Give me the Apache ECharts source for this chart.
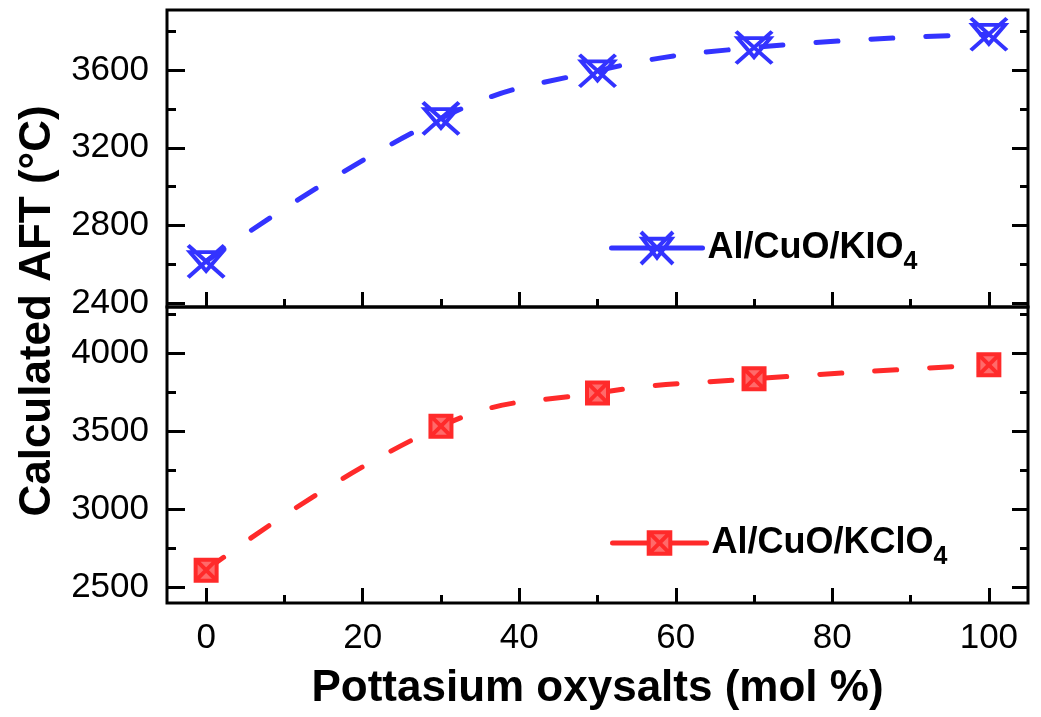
<!DOCTYPE html>
<html>
<head>
<meta charset="utf-8">
<script src="https://cdn.jsdelivr.net/npm/echarts@6/dist/echarts.min.js"></script>
<style>html,body{margin:0;padding:0;background:#fff;}#c{width:1041px;height:717px;}</style>
</head>
<body>
<div id="c"></div>
<script>
// ---- data ----
const xValues = [0, 30, 50, 70, 100];
const kio4Values = [2615, 3352, 3597, 3717, 3785];
const kclo4Values = [2610, 3532, 3745, 3835, 3925];
const seriesNames = ['Al/CuO/KIO4', 'Al/CuO/KClO4'];
const xMajorTicks = [0, 20, 40, 60, 80, 100];
const xMinorTicks = [10, 30, 50, 70, 90];
const topMajorTicks = [2400, 2800, 3200, 3600];
const topMinorTicks = [2600, 3000, 3400, 3800];
const botMajorTicks = [2500, 3000, 3500, 4000];
const botMinorTicks = [2750, 3250, 3750, 4250];
const xTitle = 'Pottasium oxysalts (mol %)';
const yTitle = 'Calculated AFT (°C)';

const FONT = '"Liberation Sans", Arial, sans-serif';
const BLUE = '#3333ff';
const RED = '#ff2a2a';
const RED_FILL = '#ff6a6a';

function pairs(xs, ys) { return xs.map((x, i) => [x, ys[i]]); }
function plain(v) { return String(v); }

function labelOpt(ticks) {
  return { show: true, customValues: ticks, margin: 18, color: '#000', fontSize: 35, fontFamily: FONT, formatter: plain };
}
function xAx(grid, ticks, len, labels, extra) {
  return Object.assign({
    type: 'value', gridIndex: grid, min: -5, max: 105, position: 'bottom',
    axisLine: { show: false, onZero: false }, splitLine: { show: false },
    axisTick: { show: true, inside: true, length: len, customValues: ticks, lineStyle: { color: '#000', width: 3 } },
    axisLabel: labels ? labelOpt(ticks) : { show: false }
  }, extra || {});
}
function yAx(grid, min, max, ticks, len, pos, labels) {
  return {
    type: 'value', gridIndex: grid, min: min, max: max, position: pos,
    axisLine: { show: false, onZero: false }, splitLine: { show: false },
    axisTick: { show: true, inside: true, length: len, customValues: ticks, lineStyle: { color: '#000', width: 3 } },
    axisLabel: labels ? labelOpt(ticks) : { show: false }
  };
}

const legendRich = {
  m: { fontSize: 36, fontWeight: 'bold', fontFamily: FONT, color: '#000' },
  s: { fontSize: 25, fontWeight: 'bold', fontFamily: FONT, color: '#000', padding: [28, 0, 0, 0] }
};
function legendFmt(name) { return '{m|' + name.slice(0, -1) + '}{s|' + name.slice(-1) + '}'; }

const chart = echarts.init(document.getElementById('c'), null, { renderer: 'canvas' });
chart.setOption({
  animation: false,
  backgroundColor: '#fff',
  grid: [
    { left: 167, right: 13, top: 10, height: 297, show: true, borderColor: '#000', borderWidth: 3, backgroundColor: 'transparent' },
    { left: 167, right: 13, top: 307, height: 296, show: true, borderColor: '#000', borderWidth: 3, backgroundColor: 'transparent' }
  ],
  xAxis: [
    xAx(0, xMajorTicks, 15, false),
    xAx(0, xMinorTicks, 8, false),
    xAx(1, xMajorTicks, 15, true, { name: xTitle, nameLocation: 'middle', nameGap: 64,
      nameTextStyle: { fontSize: 44, fontWeight: 'bold', fontFamily: FONT, color: '#000' } }),
    xAx(1, xMinorTicks, 8, false)
  ],
  yAxis: [
    yAx(0, 2380, 3910, topMajorTicks, 18, 'left', true),
    yAx(0, 2380, 3910, topMinorTicks, 9, 'left', false),
    yAx(0, 2380, 3910, topMajorTicks, 16, 'right', false),
    yAx(0, 2380, 3910, topMinorTicks, 8, 'right', false),
    yAx(1, 2400, 4295, botMajorTicks, 18, 'left', true),
    yAx(1, 2400, 4295, botMinorTicks, 9, 'left', false),
    yAx(1, 2400, 4295, botMajorTicks, 16, 'right', false),
    yAx(1, 2400, 4295, botMinorTicks, 8, 'right', false)
  ],
  legend: [
    { data: [seriesNames[0]], left: 609, top: 230, padding: 0, itemWidth: 91, itemHeight: 40,
      formatter: legendFmt, textStyle: { rich: legendRich },
      itemStyle: { color: 'transparent', borderColor: BLUE, borderWidth: 4 },
      lineStyle: { type: 'solid', width: 5, color: BLUE, cap: 'round' } },
    { data: [seriesNames[1]], left: 610, top: 525, padding: 0, itemWidth: 94, itemHeight: 27,
      formatter: legendFmt, textStyle: { rich: legendRich },
      itemStyle: { color: RED_FILL, borderColor: RED, borderWidth: 4 },
      lineStyle: { type: 'solid', width: 5, color: RED, cap: 'round' } }
  ],
  graphic: [{
    type: 'text', x: 38, y: 311, rotation: Math.PI / 2,
    style: { text: yTitle, font: 'bold 44px ' + FONT, fill: '#000', align: 'center', verticalAlign: 'middle' }
  }],
  series: [
    {
      name: seriesNames[0], type: 'line', xAxisIndex: 0, yAxisIndex: 0,
      data: pairs(xValues, kio4Values), smooth: 0.45,
      symbol: 'path://M0,0L100,100M100,0L0,100M5,21L95,21L50,80Z', symbolSize: [36, 32],
      itemStyle: { color: 'transparent', borderColor: BLUE, borderWidth: 4 },
      lineStyle: { color: BLUE, width: 5, type: [22, 33], cap: 'round' }
    },
    {
      name: seriesNames[1], type: 'line', xAxisIndex: 2, yAxisIndex: 4,
      data: pairs(xValues, kclo4Values), smooth: 0.45,
      symbol: 'path://M0,0L100,0L100,100L0,100ZM0,0L100,100M100,0L0,100', symbolSize: [21, 21],
      itemStyle: { color: RED_FILL, borderColor: RED, borderWidth: 4 },
      lineStyle: { color: RED, width: 5, type: [22, 33], cap: 'round' }
    }
  ]
});
</script>
</body>
</html>
